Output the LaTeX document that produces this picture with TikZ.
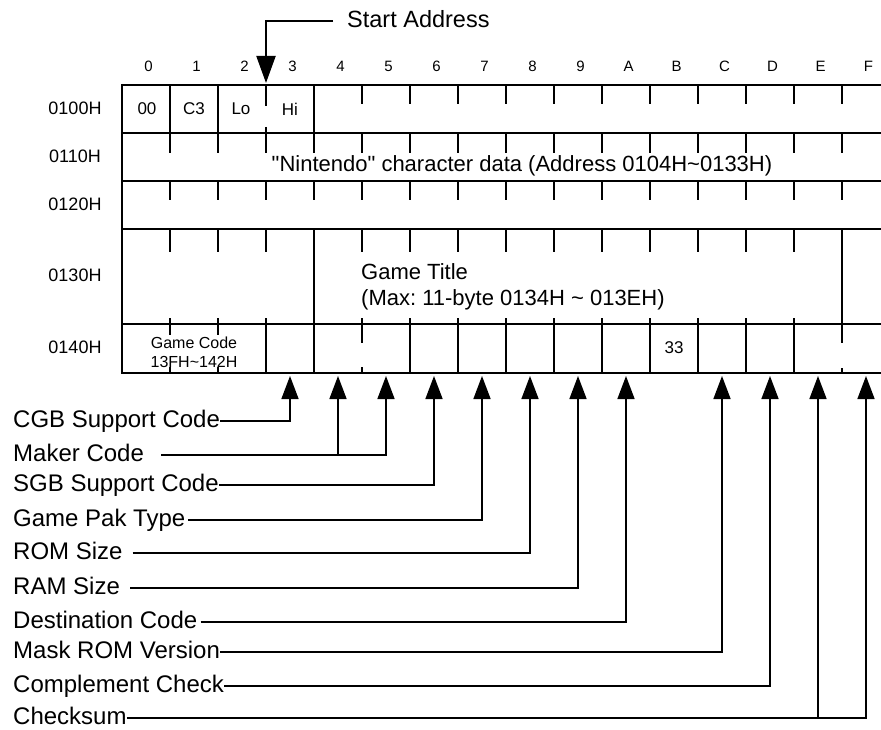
\documentclass[tikz,border=0pt]{standalone}
\usepackage{fontspec}
\setmainfont{Liberation Sans}[Ligatures=TeXOff]
\usetikzlibrary{arrows.meta}
\frenchspacing
\begin{document}
\begin{tikzpicture}[x=1pt,y=-1pt,
  gridline/.style={line width=2pt},
  tickline/.style={line width=1.8pt},
  conn/.style={line width=1.5pt,-{Triangle[length=23pt,width=17pt]}},
  startconn/.style={line width=2pt,-{Triangle[length=27pt,width=19pt]}},
  lbl/.style={anchor=west,inner sep=0pt,font=\fontsize{24}{24}\selectfont,text height=12pt,text depth=0pt},
  colhead/.style={inner sep=0pt,font=\fontsize{15}{15}\selectfont},
  rowhead/.style={inner sep=0pt,font=\fontsize{18}{18}\selectfont},
  celltxt/.style={inner sep=0pt,font=\fontsize{17}{17}\selectfont},
  bigtxt/.style={inner sep=0pt,font=\fontsize{22}{22}\selectfont,text height=15.7pt,text depth=0pt},
  smalltxt/.style={inner sep=0pt,font=\fontsize{16}{16}\selectfont}
]
\useasboundingbox (0,0) rectangle (881,730);
\fill[white] (0,0) rectangle (881,730);

% ---------- grid ----------
\foreach \y in {85,133,181,229,324,373} \draw[gridline] (122,\y) -- (881,\y);
\draw[gridline] (122,84) -- (122,374);

% row 0100H
\foreach \x in {170,218,314} \draw[gridline] (\x,85) -- (\x,133);
\draw[tickline] (266,85) -- (266,106);
\draw[tickline] (266,127) -- (266,133);
\foreach \x in {362,410,...,842} \draw[tickline] (\x,85) -- (\x,104);
% row 0110H
\foreach \x in {170,218,...,842} \draw[tickline] (\x,133) -- (\x,153);
% row 0120H
\foreach \x in {170,218,...,842} \draw[tickline] (\x,181) -- (\x,200);
% row 0130H
\foreach \x in {170,218,266} \draw[tickline] (\x,229) -- (\x,252);
\foreach \x in {362,410,...,794} \draw[tickline] (\x,229) -- (\x,252);
\draw[gridline] (314,229) -- (314,373);
\draw[tickline] (842,229) -- (842,343);
\draw[tickline] (842,368) -- (842,373);
% row 0140H
\draw[tickline] (266,318) -- (266,373);
\foreach \x in {410,458,...,794} \draw[tickline] (\x,318) -- (\x,373);
\foreach \x in {170,218} {\draw[tickline] (\x,318) -- (\x,335); \draw[tickline] (\x,367) -- (\x,373);}
\draw[tickline] (362,318) -- (362,343);
\draw[tickline] (362,367) -- (362,373);

% ---------- headers ----------
\foreach \i/\t in {0/0,1/1,2/2,3/3,4/4,5/5,6/6,7/7,8/8,9/9,10/A,11/B,12/C,13/D,14/E,15/F}
  \node[colhead] (c\i) at ({148.5+48*\i},66) {\t};
\node[rowhead] (r0) at (75,108) {0100H};
\node[rowhead] (r1) at (75,156) {0110H};
\node[rowhead] (r2) at (75,204) {0120H};
\node[rowhead] (r3) at (75,275) {0130H};
\node[rowhead] (r4) at (75,347) {0140H};

% ---------- cell texts ----------
\node[celltxt] (v00) at (147,109) {00};
\node[celltxt] (vc3) at (194,109) {C3};
\node[celltxt] (vlo) at (241,109) {Lo};
\node[celltxt] (vhi) at (290,109) {Hi};
\node[bigtxt] (nin) at (522,164) {"Nintendo" character data (Address 0104H\textasciitilde0133H)};
\node[bigtxt,anchor=west] (gt1) at (361,272) {Game Title};
\node[bigtxt,anchor=west] (gt2) at (361,297.5) {(Max: 11-byte 0134H \textasciitilde\ 013EH)};
\node[smalltxt] (gc1) at (194,343) {Game Code};
\node[smalltxt] (gc2) at (194,362) {13FH\textasciitilde142H};
\node[inner sep=0pt,font=\fontsize{17}{17}\selectfont] (v33) at (674,348) {33};

% ---------- start address ----------
\node[anchor=west,inner sep=0pt,font=\fontsize{23.5}{23.5}\selectfont,text height=17pt,text depth=3pt] (start) at (347,21) {Start Address};
\coordinate (sa) at (266,83);
\draw[startconn,shorten <=14pt] (start.west) -| (sa);

% ---------- arrow tips ----------
\coordinate (t3) at (290,376);
\coordinate (t4) at (338,376);
\coordinate (t5) at (386,376);
\coordinate (t6) at (434,376);
\coordinate (t7) at (482,376);
\coordinate (t8) at (530,376);
\coordinate (t9) at (578,376);
\coordinate (tA) at (626,376);
\coordinate (tC) at (722,376);
\coordinate (tD) at (770,376);
\coordinate (tE) at (818,376);
\coordinate (tF) at (866,376);

% ---------- labels ----------
\node[lbl] (cgb) at (13,421) {CGB Support Code};
\node[lbl] (maker) at (13,455) {Maker Code};
\node[lbl] (sgb) at (13,485) {SGB Support Code};
\node[lbl] (pak) at (13,520) {Game Pak Type};
\node[lbl] (rom) at (13,553) {ROM Size};
\node[lbl] (ram) at (13,588) {RAM Size};
\node[lbl] (dest) at (13,622) {Destination Code};
\node[lbl] (mask) at (13,652) {Mask ROM Version};
\node[lbl] (comp) at (13,686) {Complement Check};
\node[lbl] (chk) at (13,718) {Checksum};

% ---------- connectors ----------
\draw[conn] (cgb.east) -| (t3);
\draw[conn,shorten <=17pt] (maker.east) -| (t5);
\draw[conn] (t4 |- maker.east) -- (t4);
\draw[conn] (sgb.east) -| (t6);
\draw[conn,shorten <=3pt] (pak.east) -| (t7);
\draw[conn,shorten <=10pt] (rom.east) -| (t8);
\draw[conn,shorten <=10pt] (ram.east) -| (t9);
\draw[conn,shorten <=3pt] (dest.east) -| (tA);
\draw[conn] (mask.east) -| (tC);
\draw[conn] (comp.east) -| (tD);
\draw[conn] (chk.east) -| (tF);
\draw[conn] (tE |- chk.east) -- (tE);
\end{tikzpicture}
\end{document}
